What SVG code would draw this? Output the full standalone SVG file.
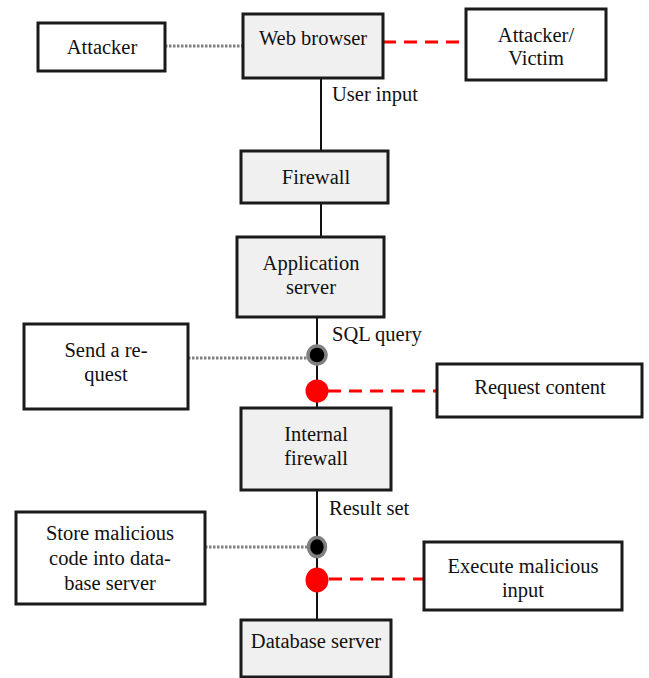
<svg xmlns="http://www.w3.org/2000/svg" width="649" height="678" viewBox="0 0 649 678">
<style>
  .box { fill: #ffffff; stroke: #1a1a1a; stroke-width: 3; }
  .main { fill: #f0f0f0; stroke: #1a1a1a; stroke-width: 3; }
  text { font-family: 'Liberation Serif', 'Times New Roman', Tinos, 'DejaVu Serif', serif; font-size: 20.5px; fill: #111; }
  .t { text-anchor: middle; }
  .wire { stroke: #111; stroke-width: 2; fill: none; }
  .dot { stroke: #808080; stroke-width: 3; stroke-dasharray: 2.5 1.5; fill: none; }
  .dash { stroke: #ff0000; stroke-width: 3; stroke-dasharray: 13 8; fill: none; }
</style>
<rect width="649" height="678" fill="#ffffff"/>
<g id="connectors">
  <line class="wire" x1="321" y1="78" x2="321" y2="151"/>
  <line class="wire" x1="321" y1="203" x2="321" y2="237"/>
  <line class="wire" x1="317" y1="317" x2="317" y2="408"/>
  <line class="wire" x1="317" y1="490" x2="317" y2="620"/>
  <line class="dot" x1="165" y1="46" x2="243" y2="46"/>
  <line class="dash" x1="383" y1="42" x2="466" y2="42"/>
  <line class="dot" x1="188" y1="358" x2="308" y2="358"/>
  <line class="dash" x1="328" y1="391" x2="437" y2="391"/>
  <line class="dot" x1="205" y1="547" x2="307" y2="547"/>
  <line class="dash" x1="329" y1="579" x2="424" y2="579"/>
  <text x="332" y="101">User input</text>
  <text x="332" y="341">SQL query</text>
  <text x="329" y="515">Result set</text>
  <circle cx="317" cy="355" r="9" fill="#000" stroke="#808080" stroke-width="3.5"/>
  <circle cx="317" cy="391" r="11.5" fill="#ff0000"/>
  <ellipse cx="317" cy="547" rx="8.5" ry="9.5" fill="#000" stroke="#808080" stroke-width="3.5"/>
  <ellipse cx="317" cy="580" rx="11.5" ry="12.5" fill="#ff0000"/>
</g>
<g id="attacker">
  <rect class="box" x="38" y="23" width="127" height="48"/>
  <text class="t" x="102" y="54">Attacker</text>
</g>
<g id="web-browser">
  <rect class="main" x="243" y="14" width="140" height="64"/>
  <text class="t" x="313" y="45">Web browser</text>
</g>
<g id="attacker-victim">
  <rect class="box" x="466" y="9" width="140" height="71"/>
  <text class="t" x="536" y="42">Attacker/</text>
  <text class="t" x="536" y="65">Victim</text>
</g>
<g id="firewall">
  <rect class="main" x="241" y="151" width="147" height="52"/>
  <text class="t" x="316" y="184">Firewall</text>
</g>
<g id="application-server">
  <rect class="main" x="237" y="237" width="147" height="80"/>
  <text class="t" x="311" y="270">Application</text>
  <text class="t" x="311" y="294">server</text>
</g>
<g id="send-request">
  <rect class="box" x="24" y="324" width="164" height="85"/>
  <text class="t" x="106" y="357">Send a re-</text>
  <text class="t" x="106" y="381">quest</text>
</g>
<g id="request-content">
  <rect class="box" x="437" y="364" width="205" height="53"/>
  <text class="t" x="540" y="394">Request content</text>
</g>
<g id="internal-firewall">
  <rect class="main" x="241" y="408" width="150" height="82"/>
  <text class="t" x="316" y="441">Internal</text>
  <text class="t" x="316" y="465">firewall</text>
</g>
<g id="store-malicious">
  <rect class="box" x="16" y="512" width="189" height="92"/>
  <text class="t" x="110" y="540">Store malicious</text>
  <text class="t" x="110" y="565">code into data-</text>
  <text class="t" x="110" y="590">base server</text>
</g>
<g id="execute-malicious">
  <rect class="box" x="424" y="542" width="198" height="68"/>
  <text class="t" x="523" y="573">Execute malicious</text>
  <text class="t" x="523" y="597">input</text>
</g>
<g id="database-server">
  <rect class="main" x="241" y="620" width="150" height="57"/>
  <text class="t" x="316" y="648">Database server</text>
</g>
</svg>
